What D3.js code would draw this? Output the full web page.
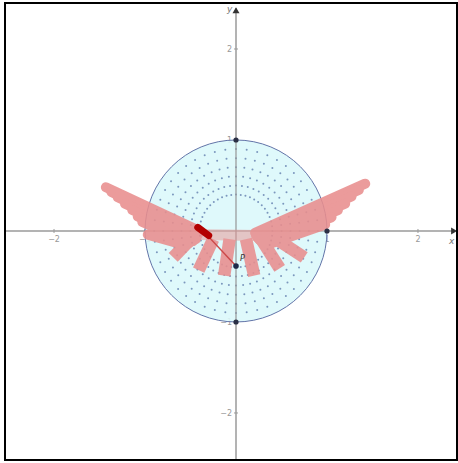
<!DOCTYPE html>
<html>
<head>
<meta charset="utf-8">
<script src="https://cdn.jsdelivr.net/npm/d3@7"></script>
<style>
  html, body { margin: 0; padding: 0; background: #fff; }
  svg { display: block; }
</style>
</head>
<body>
<svg id="chart" width="458" height="463"></svg>
<script>
// Axis ticks
const xTicks = [-2, -1, 1, 2];
const yTicks = [-2, -1, 1, 2];

// Unit disk and its polar dot grid
const diskRadius = 1;
const ringRadii = [0.4, 0.5, 0.6, 0.7, 0.8, 0.9];
const rayStepDeg = 7.5;

// Marked points on the circle
const circlePoints = [[0, 1], [0, -1], [1, 0]];

// Traced bar positions below the axis: [x1, y1, x2, y2]
const lowerBars = [
  [-0.43, -0.02, -0.69, -0.29],
  [-0.25, -0.09, -0.41, -0.43],
  [-0.07, -0.09, -0.13, -0.49],
  [0.11, -0.09, 0.20, -0.49],
  [0.27, -0.08, 0.48, -0.41],
  [0.40, -0.06, 0.75, -0.29]
];

// Traced positions forming the left wing
const leftWing = [
  [-1.43, 0.48, -0.40, 0.00],
  [-1.37, 0.43, -0.41, -0.02],
  [-1.30, 0.37, -0.42, -0.04],
  [-1.22, 0.30, -0.43, -0.06],
  [-1.14, 0.23, -0.44, -0.09],
  [-1.08, 0.16, -0.47, -0.11],
  [-1.03, 0.10, -0.51, -0.13],
  [-0.97, -0.04, -0.58, -0.15]
];

// Traced positions forming the right wing
const rightWing = [
  [1.42, 0.52, 0.21, -0.02],
  [1.35, 0.45, 0.22, -0.05],
  [1.27, 0.38, 0.24, -0.08],
  [1.20, 0.30, 0.26, -0.10],
  [1.12, 0.23, 0.29, -0.12],
  [1.05, 0.15, 0.32, -0.13],
  [0.98, 0.07, 0.35, -0.15]
];

// Faint band joining the wings across the axis
const centerBand = [[-0.40, -0.04, 0.25, -0.05]];

// Current segment and the point P
const currentSeg = [-0.42, 0.04, -0.30, -0.05];
const pointP = [0, -0.385];
const linkSeg = [-0.36, 0.0, 0, -0.385];

const svg = d3.select("#chart");
const x = d3.scaleLinear().domain([-2.53, 2.43]).range([5.8, 457.1]);
const y = d3.scaleLinear().domain([2.49, -2.52]).range([4.4, 460.3]);

// Axes
const axisColor = "#9a9a9a";
svg.append("line")
  .attr("x1", x(-2.53)).attr("x2", x(2.40))
  .attr("y1", y(0)).attr("y2", y(0))
  .attr("stroke", axisColor).attr("stroke-width", 1.5);
svg.append("line")
  .attr("x1", x(0)).attr("x2", x(0))
  .attr("y1", y(2.45)).attr("y2", y(-2.52))
  .attr("stroke", axisColor).attr("stroke-width", 1.5);

// Arrow heads
svg.append("path")
  .attr("d", `M${x(2.43)},${y(0)} l-6,-3.5 l0,7 z`)
  .attr("fill", "#333");
svg.append("path")
  .attr("d", `M${x(0)},${y(2.46)} l-3.5,6 l7,0 z`)
  .attr("fill", "#333");
svg.append("text").attr("x", x(2.37)).attr("y", y(0) + 13)
  .attr("text-anchor", "middle")
  .attr("font-family", "DejaVu Sans").attr("font-size", 9).attr("font-style", "italic")
  .attr("fill", "#777").text("x");
svg.append("text").attr("x", x(0) - 9).attr("y", y(2.41))
  .attr("font-family", "DejaVu Sans").attr("font-size", 9).attr("font-style", "italic")
  .attr("fill", "#777").text("y");

// Tick marks and labels
svg.selectAll(".xt").data(xTicks).join("line")
  .attr("x1", d => x(d)).attr("x2", d => x(d))
  .attr("y1", y(0) - 2).attr("y2", y(0) + 2)
  .attr("stroke", axisColor);
svg.selectAll(".yt").data(yTicks).join("line")
  .attr("x1", x(0) - 2).attr("x2", x(0) + 2)
  .attr("y1", d => y(d)).attr("y2", d => y(d))
  .attr("stroke", axisColor);
svg.selectAll(".xl").data(xTicks).join("text")
  .attr("x", d => x(d)).attr("y", y(0) + 11)
  .attr("text-anchor", "middle")
  .attr("font-family", "DejaVu Sans").attr("font-size", 8)
  .attr("fill", "#999").text(d => d < 0 ? "\u2212" + Math.abs(d) : d);
svg.selectAll(".yl").data(yTicks).join("text")
  .attr("x", x(0) - 4).attr("y", d => y(d) + 3)
  .attr("text-anchor", "end")
  .attr("font-family", "DejaVu Sans").attr("font-size", 8)
  .attr("fill", "#999").text(d => d < 0 ? "\u2212" + Math.abs(d) : d);

// Disk
const unit = x(1) - x(0);
svg.append("circle")
  .attr("cx", x(0)).attr("cy", y(0)).attr("r", diskRadius * unit)
  .attr("fill", "#dcf8fb").attr("fill-opacity", 0.9)
  .attr("stroke", "#6274a8").attr("stroke-width", 1);

// Polar dot grid
const dots = [];
ringRadii.forEach(r => {
  for (let a = 0; a < 360; a += rayStepDeg) {
    const t = a * Math.PI / 180;
    dots.push([r * Math.cos(t), r * Math.sin(t)]);
  }
});
svg.append("g").selectAll("circle").data(dots).join("circle")
  .attr("cx", d => x(d[0])).attr("cy", d => y(d[1]))
  .attr("r", 1).attr("fill", "#5a76a8").attr("fill-opacity", 0.75);

// Axis lines over the disk
svg.append("line")
  .attr("x1", x(-1)).attr("x2", x(1)).attr("y1", y(0)).attr("y2", y(0))
  .attr("stroke", axisColor).attr("stroke-width", 1.2);
svg.append("line")
  .attr("x1", x(0)).attr("x2", x(0)).attr("y1", y(1)).attr("y2", y(-1))
  .attr("stroke", axisColor).attr("stroke-width", 1.2);

// Traces
const traces = svg.append("g").attr("opacity", 0.88);
const drawSegs = (data, w, cap, op) => traces.append("g").attr("opacity", op)
  .selectAll("line").data(data).join("line")
  .attr("x1", d => x(d[0])).attr("y1", d => y(d[1]))
  .attr("x2", d => x(d[2])).attr("y2", d => y(d[3]))
  .attr("stroke", "#e98e8e").attr("stroke-width", w).attr("stroke-linecap", cap);
drawSegs(centerBand, 11, "round", 0.55);
drawSegs(leftWing, 10, "round", 1);
drawSegs(rightWing, 10, "round", 1);
drawSegs(lowerBars, 12.5, "butt", 1);

// Link from the current segment to P
svg.append("line")
  .attr("x1", x(linkSeg[0])).attr("y1", y(linkSeg[1]))
  .attr("x2", x(linkSeg[2])).attr("y2", y(linkSeg[3]))
  .attr("stroke", "#cc4a4a").attr("stroke-width", 1.4);

// Current segment
svg.append("line")
  .attr("x1", x(currentSeg[0])).attr("y1", y(currentSeg[1]))
  .attr("x2", x(currentSeg[2])).attr("y2", y(currentSeg[3]))
  .attr("stroke", "#b30000").attr("stroke-width", 7).attr("stroke-linecap", "round");

// Points
svg.selectAll(".cp").data(circlePoints).join("circle")
  .attr("cx", d => x(d[0])).attr("cy", d => y(d[1]))
  .attr("r", 2.6).attr("fill", "#2a2f45");
svg.append("circle")
  .attr("cx", x(pointP[0])).attr("cy", y(pointP[1]))
  .attr("r", 2.8).attr("fill", "#1f2a4a");
svg.append("text")
  .attr("x", x(pointP[0]) + 4).attr("y", y(pointP[1]) - 5)
  .attr("font-family", "DejaVu Sans").attr("font-size", 8).attr("font-style", "italic")
  .attr("fill", "#333").text("P");

// Frame
svg.append("rect")
  .attr("x", 5).attr("y", 3).attr("width", 452).attr("height", 457)
  .attr("fill", "none").attr("stroke", "#000").attr("stroke-width", 2);
</script>
</body>
</html>
